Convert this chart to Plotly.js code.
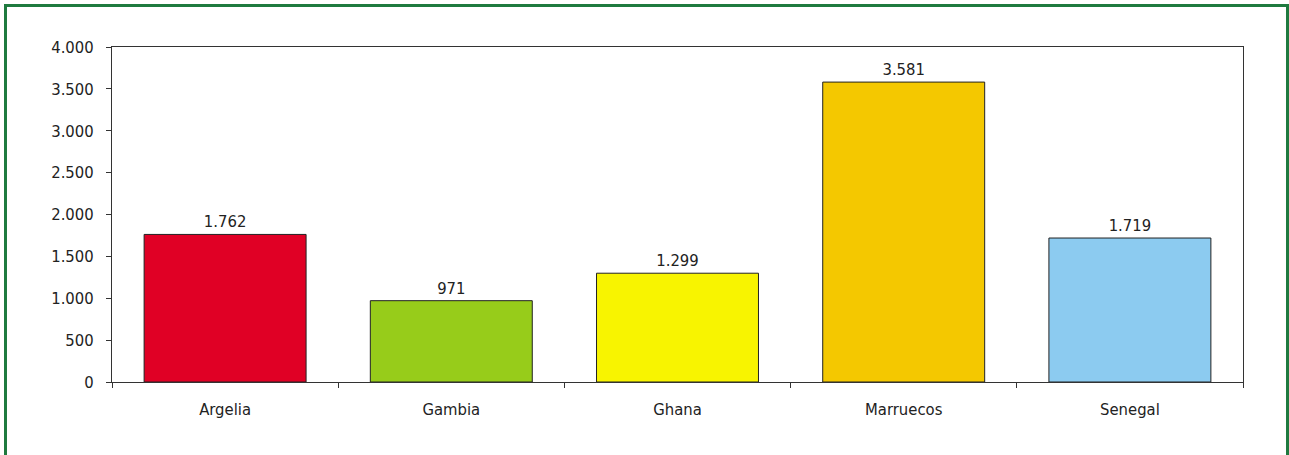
<!DOCTYPE html>
<html>
<head>
<meta charset="utf-8">
<script src="https://cdn.plot.ly/plotly-3.0.1.min.js"></script>
<style>
  html, body { margin: 0; padding: 0; background: #fff; }
  #frame { position: absolute; left: 4px; top: 4px; width: 1279px; height: 470px; border: 3px solid #1f7a3f; }
  #chart { position: absolute; left: 0; top: 0; width: 1289px; height: 455px; }
</style>
</head>
<body>
<div id="chart"></div>
<div id="frame"></div>
<script>
const categories = ["Argelia", "Gambia", "Ghana", "Marruecos", "Senegal"];
const values = [1762, 971, 1299, 3581, 1719];
const barColors = ["#e00025", "#97cc1a", "#f8f400", "#f4c800", "#8ccbf0"];
const yTicks = [0, 500, 1000, 1500, 2000, 2500, 3000, 3500, 4000];

const font = { family: "Liberation Sans Narrow, DejaVu Sans Condensed, sans-serif", size: 16.5, color: "#222" };

Plotly.newPlot("chart", [{
  type: "bar",
  x: categories,
  y: values,
  marker: { color: barColors, line: { color: "#222", width: 1 } },
  text: values,
  texttemplate: "%{y:,}",
  textposition: "outside",
  cliponaxis: false,
  textfont: font,
  hoverinfo: "none"
}], {
  width: 1289, height: 455,
  margin: { l: 112, r: 46, t: 47, b: 73 },
  separators: ",.",
  font: font,
  bargap: 0.284,
  showlegend: false,
  paper_bgcolor: "#fff",
  plot_bgcolor: "#fff",
  xaxis: {
    showline: true, linecolor: "#333", linewidth: 1, mirror: true,
    ticks: "outside", tickson: "boundaries", ticklen: 5, tickcolor: "#333",
    ticklabelstandoff: 12,
    showgrid: false, tickfont: font
  },
  yaxis: {
    range: [0, 4000], tickvals: yTicks, tickformat: ",d",
    showline: true, linecolor: "#333", linewidth: 1, mirror: true,
    ticks: "outside", ticklen: 5, tickcolor: "#333",
    ticklabelstandoff: 9,
    showgrid: false, zeroline: false, tickfont: font
  }
}, { staticPlot: true });
</script>
</body>
</html>
